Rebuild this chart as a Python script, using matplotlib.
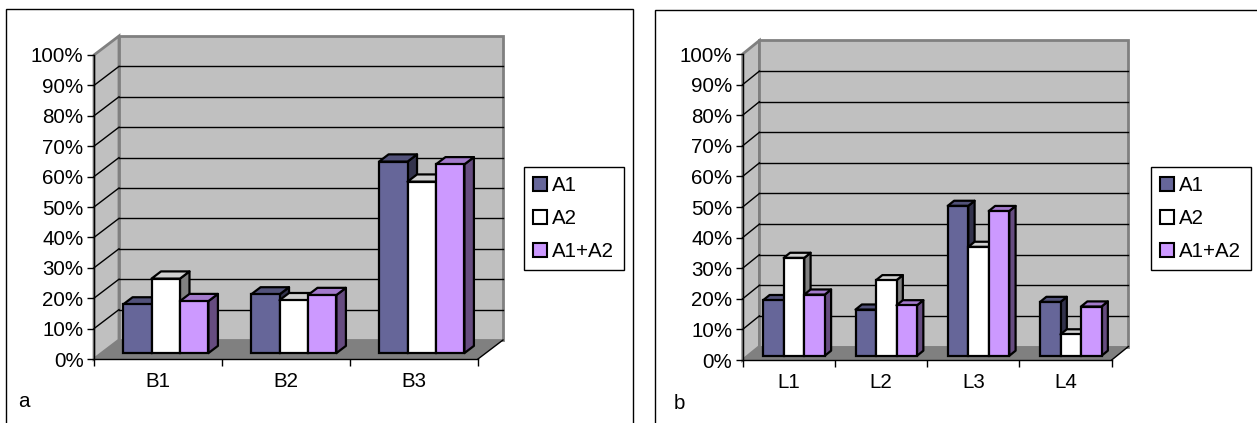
import matplotlib
matplotlib.use("Agg")
import matplotlib.pyplot as plt
from matplotlib.patches import Polygon, Rectangle, Patch
from matplotlib.lines import Line2D
import numpy as np

plt.rcParams['font.family'] = ['Liberation Sans', 'DejaVu Sans']
FS = 14.8

# ---------------- data ----------------
series_names = ['A1', 'A2', 'A1+A2']

cats_a = ['B1', 'B2', 'B3']
a_A1 = [16.0, 19.3, 63.0]
a_A2 = [24.5, 17.4, 56.4]
a_A12 = [17.1, 19.1, 62.1]

cats_b = ['L1', 'L2', 'L3', 'L4']
b_A1 = [18.2, 15.1, 49.0, 17.6]
b_A2 = [32.0, 24.7, 35.6, 7.0]
b_A12 = [20.0, 16.5, 47.3, 16.1]

yticks = list(range(0, 101, 10))
ytick_labels = [f'{t}%' for t in yticks]

front_colors = ['#666699', '#FFFFFF', '#CC99FF']
top_colors = ['#52527a', '#d0d0d0', '#a37acc']
side_colors = ['#33334c', '#808080', '#664c80']

W, H = 1257, 423
fig = plt.figure(figsize=(W / 100, H / 100), dpi=100)
fig.patch.set_facecolor('white')


def fx(px):
    return px / W


def fy(py):
    return 1 - py / H


def draw_panel(x0, x1, y0, y100, cats, values, DXpx, DYpx, legend_xy, label, label_xy):
    N = len(cats)
    ax = fig.add_axes([fx(x0), fy(y0), fx(x1) - fx(x0), fy(y100) - fy(y0)])
    ax.set_xlim(0, N)
    ax.set_ylim(0, 100)
    ax.set_facecolor('none')
    # depth offsets in data units
    DX = DXpx / ((x1 - x0) / N)
    DY = DYpx / ((y0 - y100) / 100)

    # walls and floor
    ax.add_patch(Polygon([(0, 0), (DX, DY), (DX, 100 + DY), (0, 100)], closed=True,
                         fc='#C0C0C0', ec='#808080', lw=2, clip_on=False, zorder=0.5))
    ax.add_patch(Polygon([(DX, DY), (N + DX, DY), (N + DX, 100 + DY), (DX, 100 + DY)], closed=True,
                         fc='#C0C0C0', ec='#808080', lw=2, clip_on=False, zorder=0.5))
    ax.add_patch(Polygon([(0, 0), (N, 0), (N + DX, DY), (DX, DY)], closed=True,
                         fc='#808080', ec='none', clip_on=False, zorder=0.6))
    ax.add_line(Line2D([N, N + DX], [0, DY], color='black', lw=1, clip_on=False, zorder=0.7))
    for v in yticks[1:-1]:
        ax.add_line(Line2D([DX, N + DX], [v + DY, v + DY], color='black', lw=1, clip_on=False, zorder=0.8))
        ax.add_line(Line2D([0, DX], [v, v + DY], color='black', lw=1, clip_on=False, zorder=0.8))

    # bars
    d0, d1 = 0.31, 0.69
    bw = 1 / 4.5
    ddx, ddy = (d1 - d0) * DX, (d1 - d0) * DY
    base = d0 * DY
    for j, vals in enumerate(values):
        xs = np.arange(N) + (0.75 + j) * bw + d0 * DX
        z = 3 + j
        for xl, v in zip(xs, vals):
            top = v + base
            ax.add_patch(Polygon([(xl + bw, base), (xl + bw + ddx, base + ddy),
                                  (xl + bw + ddx, top + ddy), (xl + bw, top)], closed=True,
                                 fc=side_colors[j], ec='black', lw=1.6, joinstyle='round',
                                 clip_on=False, zorder=z))
            ax.add_patch(Polygon([(xl, top), (xl + bw, top), (xl + bw + ddx, top + ddy),
                                  (xl + ddx, top + ddy)], closed=True,
                                 fc=top_colors[j], ec='black', lw=1.6, joinstyle='round',
                                 clip_on=False, zorder=z))
        ax.bar(xs, vals, width=bw, bottom=base, align='edge', color=front_colors[j],
               edgecolor='black', linewidth=1.6, zorder=z + 0.5, clip_on=False)

    # axes
    for s in ['top', 'right']:
        ax.spines[s].set_visible(False)
    for s in ['left', 'bottom']:
        ax.spines[s].set_color('black')
        ax.spines[s].set_linewidth(1)
        ax.spines[s].set_zorder(2)
    ax.set_yticks(yticks)
    ax.set_yticklabels(ytick_labels, fontsize=FS)
    ax.tick_params(axis='y', direction='out', length=5, width=1, pad=2.5)
    ax.set_xticks(np.arange(N + 1))
    ax.set_xticklabels([])
    ax.tick_params(axis='x', which='major', direction='out', length=5, width=1)
    ax.set_xticks(np.arange(N) + 0.5, minor=True)
    ax.set_xticklabels(cats, minor=True, fontsize=FS)
    ax.tick_params(axis='x', which='minor', length=0, pad=9)

    handles = [Patch(facecolor=c, edgecolor='black', linewidth=1.5) for c in front_colors]
    leg = ax.legend(handles, series_names, loc='upper left',
                    bbox_to_anchor=(fx(legend_xy[0]), fy(legend_xy[1])),
                    bbox_transform=fig.transFigure, frameon=True, fancybox=False,
                    edgecolor='black', framealpha=1, fontsize=FS, borderpad=0.45,
                    labelspacing=0.68, handlelength=0.65, handleheight=0.65,
                    handletextpad=0.28, borderaxespad=0)
    leg.get_frame().set_linewidth(1)
    fig.text(fx(label_xy[0]), fy(label_xy[1]), label, fontsize=FS, ha='left', va='center')
    return ax


# panel frames
fig.add_artist(Rectangle((fx(6), -0.02), fx(633) - fx(6), fy(9) + 0.02, transform=fig.transFigure,
                         fill=False, ec='black', lw=1))
fig.add_artist(Rectangle((fx(655), -0.02), 1.02 - fx(655), fy(10) + 0.02, transform=fig.transFigure,
                         fill=False, ec='black', lw=1))

draw_panel(94, 478, 359, 55, cats_a, [a_A1, a_A2, a_A12], 25, 19, (524, 167), 'a', (18, 401))
draw_panel(742.7, 1111.7, 360, 54, cats_b, [b_A1, b_A2, b_A12], 16.7, 13.5, (1151, 167), 'b', (674, 403))

fig.savefig('out.png', dpi=100, facecolor='white')
